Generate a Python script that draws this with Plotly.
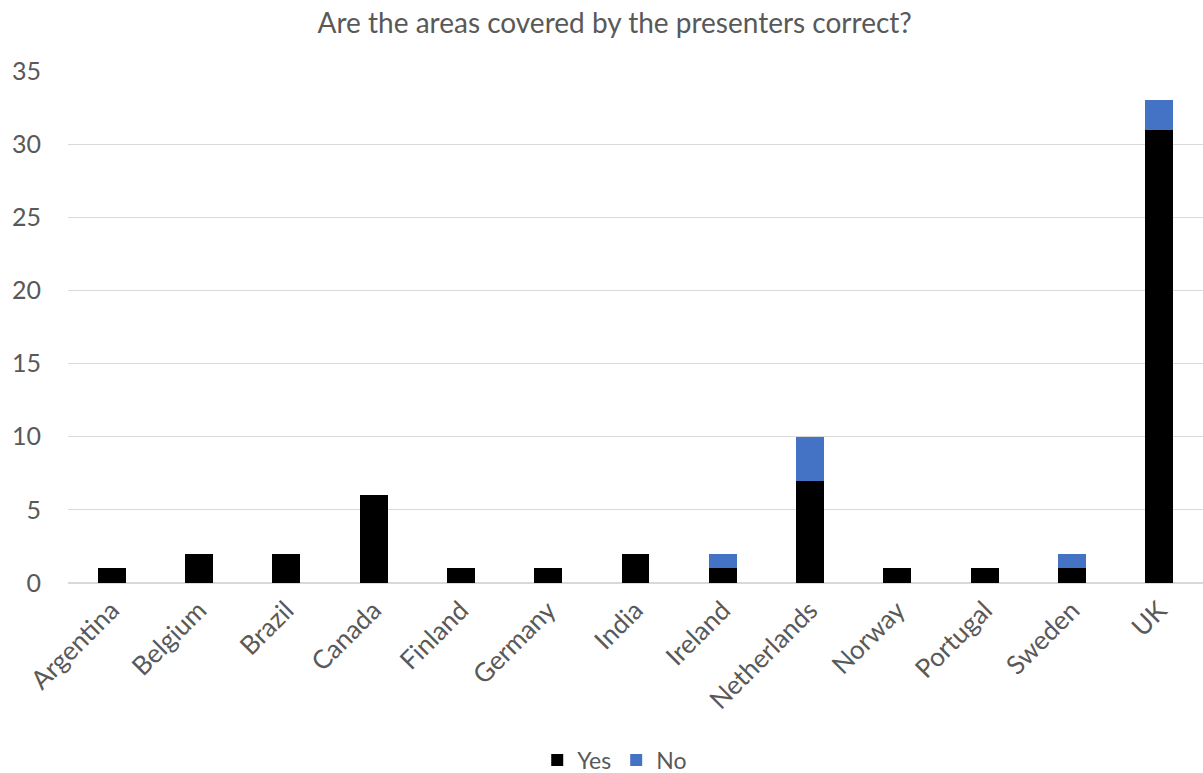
import plotly.graph_objects as go

countries = ["Argentina", "Belgium", "Brazil", "Canada", "Finland", "Germany", "India",
             "Ireland", "Netherlands", "Norway", "Portugal", "Sweden", "UK"]
yes_vals = [1, 2, 2, 6, 1, 1, 2, 1, 7, 1, 1, 1, 31]
no_vals = [0, 0, 0, 0, 0, 0, 0, 1, 3, 0, 0, 1, 2]
y_ticks = [0, 5, 10, 15, 20, 25, 30, 35]

FONT = "Lato, 'Open Sans', sans-serif"
GREY = "#595959"

fig = go.Figure()
fig.add_trace(go.Bar(name="Yes", x=countries, y=yes_vals, marker_color="#000000",
                     marker_line_width=0))
fig.add_trace(go.Bar(name="No", x=countries, y=no_vals, marker_color="#4472C4",
                     marker_line_width=0))

fig.update_layout(
    barmode="stack",
    bargap=0.68,
    width=1203, height=773,
    margin=dict(l=68, r=0, t=71, b=190),
    paper_bgcolor="white", plot_bgcolor="white",
    font=dict(family=FONT, color=GREY, size=20),
    title=dict(text="Are the areas covered by the presenters correct?",
               x=0.511, xref="container", xanchor="center",
               y=1 - 23 / 773, yref="container", yanchor="middle",
               font=dict(size=28, color=GREY, family=FONT)),
    legend=dict(orientation="h", xref="container", x=0.511, xanchor="center",
                yref="container", y=1 - 760 / 773, yanchor="middle",
                font=dict(size=23, color=GREY), itemwidth=30,
                traceorder="normal"),
    showlegend=True,
)
fig.update_xaxes(tickangle=-45, showgrid=False, showline=False, ticks="",
                 ticklabelstandoff=6, tickfont=dict(size=26, color=GREY))
fig.update_yaxes(range=[0, 35], tickvals=y_ticks, showgrid=True, gridcolor="#d9d9d9",
                 gridwidth=1, zeroline=True, zerolinecolor="#d9d9d9", zerolinewidth=2,
                 showline=False, ticks="", ticklabelstandoff=26,
                 tickfont=dict(size=25, color=GREY))

fig.write_html("out.html")
